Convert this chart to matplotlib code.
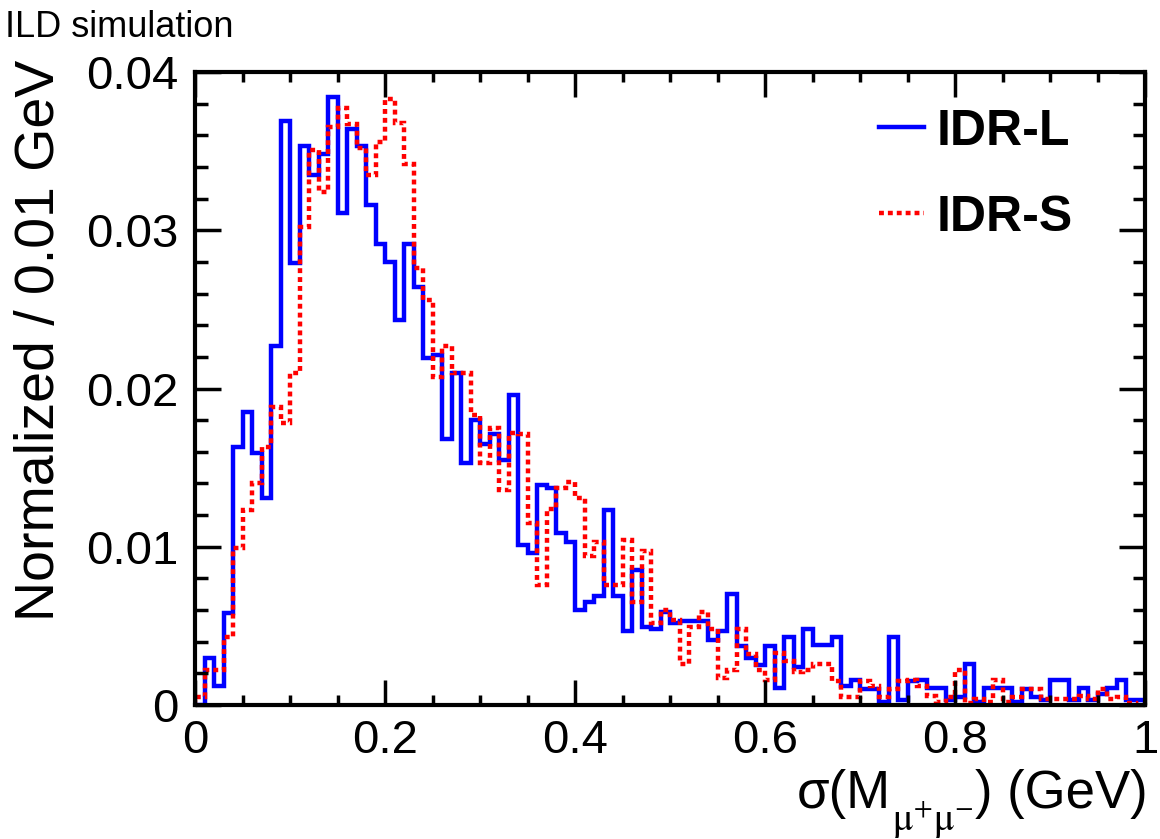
import numpy as np
import matplotlib
matplotlib.use("Agg")
import matplotlib.pyplot as plt
from matplotlib.ticker import MultipleLocator, FuncFormatter
from matplotlib.lines import Line2D

plt.rcParams['font.family'] = ['Liberation Sans', 'DejaVu Sans']
plt.rcParams['mathtext.fontset'] = 'stix'

# 100 bins of 0.01 GeV between 0 and 1
bin_edges = np.linspace(0.0, 1.0, 101)

idr_l = [
    0.0000, 0.0030, 0.0012, 0.0058, 0.0163, 0.0185, 0.0159, 0.0131, 0.0227, 0.0369,
    0.0279, 0.0353, 0.0335, 0.0348, 0.0384, 0.0311, 0.0364, 0.0353, 0.0316, 0.0291,
    0.0280, 0.0243, 0.0291, 0.0264, 0.0219, 0.0221, 0.0168, 0.0210, 0.0153, 0.0180,
    0.0165, 0.0171, 0.0155, 0.0196, 0.0101, 0.0096, 0.0139, 0.0137, 0.0109, 0.0103,
    0.0060, 0.0065, 0.0069, 0.0123, 0.0069, 0.0047, 0.0085, 0.0049, 0.0048, 0.0059,
    0.0052, 0.0053, 0.0053, 0.0053, 0.0041, 0.0047, 0.0070, 0.0037, 0.0030, 0.0025,
    0.0037, 0.0011, 0.0043, 0.0024, 0.0048, 0.0038, 0.0038, 0.0043, 0.0012, 0.0016,
    0.0010, 0.0010, 0.0002, 0.0043, 0.0003, 0.0015, 0.0016, 0.0011, 0.0011, 0.0003,
    0.0005, 0.0026, 0.0002, 0.0011, 0.0011, 0.0011, 0.0002, 0.0010, 0.0005, 0.0003,
    0.0016, 0.0016, 0.0003, 0.0011, 0.0003, 0.0007, 0.0011, 0.0016, 0.0003, 0.0003,
]

idr_s = [
    0.0005, 0.0022, 0.0022, 0.0043, 0.0099, 0.0123, 0.0140, 0.0163, 0.0188, 0.0178,
    0.0210, 0.0302, 0.0351, 0.0324, 0.0365, 0.0377, 0.0367, 0.0352, 0.0335, 0.0356,
    0.0383, 0.0368, 0.0342, 0.0276, 0.0256, 0.0207, 0.0227, 0.0210, 0.0210, 0.0183,
    0.0153, 0.0175, 0.0136, 0.0172, 0.0171, 0.0115, 0.0076, 0.0124, 0.0137, 0.0141,
    0.0131, 0.0094, 0.0103, 0.0076, 0.0076, 0.0104, 0.0065, 0.0097, 0.0052, 0.0060,
    0.0054, 0.0026, 0.0049, 0.0059, 0.0048, 0.0017, 0.0022, 0.0048, 0.0032, 0.0022,
    0.0016, 0.0033, 0.0028, 0.0021, 0.0022, 0.0026, 0.0026, 0.0015, 0.0005, 0.0005,
    0.0015, 0.0012, 0.0005, 0.0010, 0.0015, 0.0016, 0.0012, 0.0006, 0.0002, 0.0005,
    0.0022, 0.0001, 0.0004, 0.0002, 0.0016, 0.0002, 0.0005, 0.0010, 0.0010, 0.0004,
    0.0004, 0.0004, 0.0004, 0.0006, 0.0004, 0.0010, 0.0004, 0.0005, 0.0001, 0.0000,
]

labels = ['IDR-L', 'IDR-S']

fig = plt.figure(figsize=(11.6, 8.39), dpi=100)
ax = fig.add_axes([195 / 1160, 1 - 705 / 839, 950 / 1160, 633 / 839])

blue = '#0000ff'
red = '#ff0000'
red_dash = (0, (1.1, 0.9))

ax.stairs(idr_l, bin_edges, baseline=0, color=blue, linewidth=3.2)
ax.stairs(idr_s, bin_edges, baseline=0, color=red, linewidth=3.2,
          linestyle=red_dash, capstyle='butt')

ax.set_xlim(0, 1)
ax.set_ylim(0, 0.04)

ax.xaxis.set_major_locator(MultipleLocator(0.2))
ax.xaxis.set_minor_locator(MultipleLocator(0.05))
ax.yaxis.set_major_locator(MultipleLocator(0.01))
ax.yaxis.set_minor_locator(MultipleLocator(0.002))
ax.xaxis.set_major_formatter(FuncFormatter(lambda v, p: f'{v:g}'))
ax.yaxis.set_major_formatter(FuncFormatter(lambda v, p: f'{v:g}'))

for s in ax.spines.values():
    s.set_linewidth(3.0)

ax.tick_params(which='both', direction='in', top=True, right=True,
               width=2.5, labelsize=34)
ax.tick_params(axis='y', which='major', length=19, pad=12)
ax.tick_params(axis='y', which='minor', length=9)
ax.tick_params(axis='x', which='major', length=18, pad=10)
ax.tick_params(axis='x', which='minor', length=7)

# legend
handles = [Line2D([], [], color=blue, linewidth=3.2),
           Line2D([], [], color=red, linewidth=3.2, linestyle=red_dash,
                  dash_capstyle='butt')]
ax.legend(handles, labels, loc='upper left', bbox_to_anchor=(0.72, 0.942),
          frameon=False, prop=dict(weight='bold', size=36),
          handlelength=0.9, handletextpad=0.25, labelspacing=0.8,
          borderpad=0, borderaxespad=0)

# axis titles, ROOT style
fig.text(40 / 1160, 1 - 60 / 839, 'Normalized / 0.01 GeV', rotation=90,
         ha='center', va='top', fontsize=40)

# x title in pieces so the subscript sits low like ROOT's #sigma(M_{#mu^{+}#mu^{-}})
t_end = fig.text(1148 / 1160, 1 - 808 / 839, ') (GeV)', ha='right',
                 va='baseline', fontsize=38)
t_sub = ax.annotate(r'$\mathrm{\mu}^{+}\mathrm{\mu}^{-}$', xy=(0, 0),
                    xycoords=t_end, xytext=(-1, -15),
                    textcoords='offset points', ha='right', va='bottom',
                    fontsize=28, annotation_clip=False)
ax.annotate('σ(M', xy=(0, 0), xycoords=(t_sub, t_end), xytext=(-1, 0),
            textcoords='offset points', ha='right', va='bottom',
            fontsize=38, annotation_clip=False)

fig.text(5 / 1160, 1 - 37 / 839, 'ILD simulation', ha='left', va='baseline',
         fontsize=26)

fig.savefig('out.png', dpi=100)
